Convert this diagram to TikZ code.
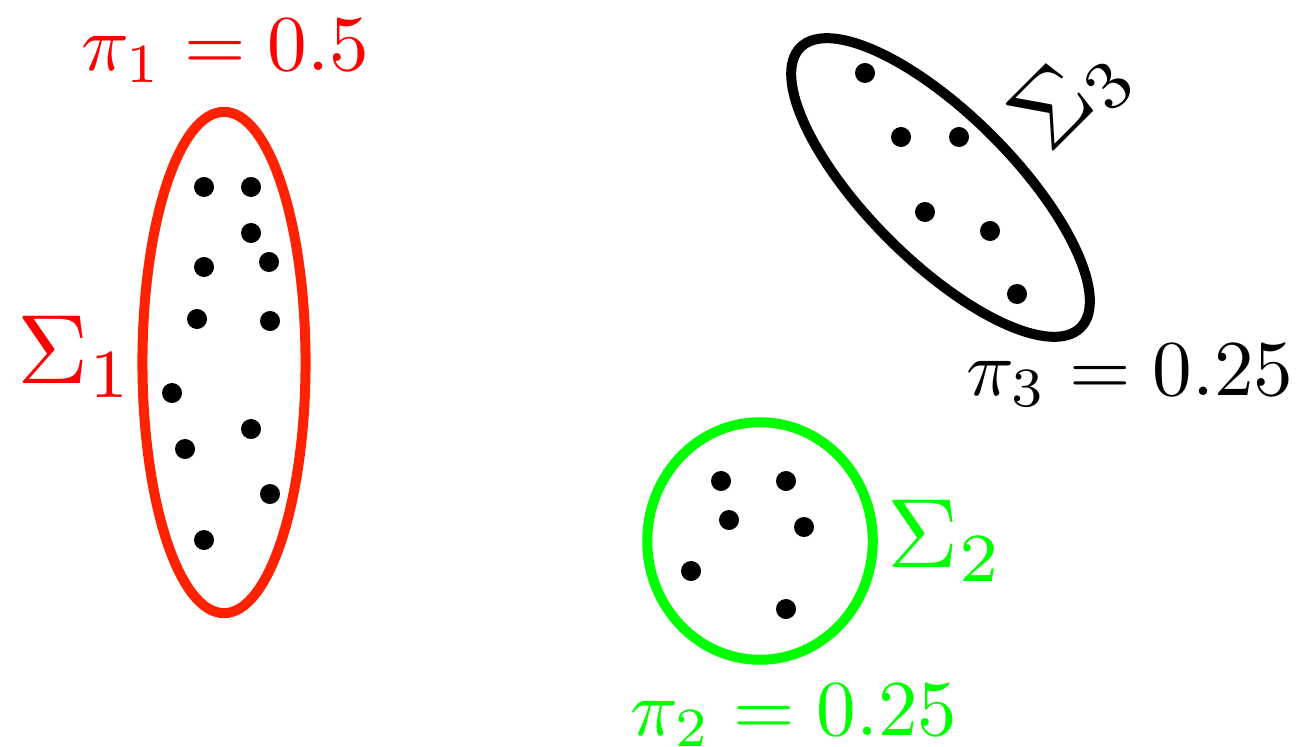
\documentclass[tikz,border=0pt]{standalone}
\definecolor{ellred}{RGB}{255,34,0}
\definecolor{txtred}{RGB}{255,0,0}
\definecolor{grn}{RGB}{0,255,0}
\tikzset{
  dot/.style={circle,fill=black,inner sep=0pt,minimum size=0.2cm},
  ring/.style={line width=0.1cm},
  pilabel/.style={anchor=base west,inner sep=0pt,scale=2.25},
  siglabel/.style={anchor=base west,inner sep=0pt,scale=2.8},
}
\begin{document}
\begin{tikzpicture}[x=0.01cm,y=-0.01cm]
\useasboundingbox (0,0) rectangle (1304,746);
% cluster 1
\coordinate (c1) at (224,362.5);
\draw[ring,ellred] (c1) ellipse [x radius=0.815cm, y radius=2.505cm];
\foreach \n/\p in {a/{204,187},b/{251,187},c/{251,233},d/{204,267},e/{269,262},f/{197,319},g/{270,321},h/{172,393},i/{251,429},j/{185,449},k/{270,494},l/{204,540}}
  \node[dot] (r\n) at (\p) {};
\node[pilabel,text=txtred] (pi1) at (80,71) {$\pi_1 = 0.5$};
\node[siglabel,text=txtred] (s1) at (16,383) {$\Sigma_1$};
% cluster 2
\coordinate (c2) at (760,541);
\draw[ring,grn] (c2) ellipse [x radius=1.127cm, y radius=1.187cm];
\foreach \n/\p in {a/{721,481},b/{786,481},c/{729,520},d/{804,527},e/{691,571},f/{786,609}}
  \node[dot] (g\n) at (\p) {};
\node[pilabel,text=grn] (pi2) at (629,735) {$\pi_2 = 0.25$};
\node[siglabel,text=grn] (s2) at (886,567) {$\Sigma_2$};
% cluster 3
\coordinate (c3) at (940.5,187.5);
\draw[ring,black,rotate around={-45:(c3)}] (c3) ellipse [x radius=1.98cm, y radius=0.73cm];
\foreach \n/\p in {a/{865,73},b/{901,137},c/{959,137},d/{925,212},e/{990,231},f/{1017,294}}
  \node[dot] (k\n) at (\p) {};
\node[pilabel] (pi3) at (965,395) {$\pi_3 = 0.25$};
\node[inner sep=0pt,scale=2.8,rotate=45] (s3) at (1072,96) {$\Sigma_3$};
\end{tikzpicture}
\end{document}
